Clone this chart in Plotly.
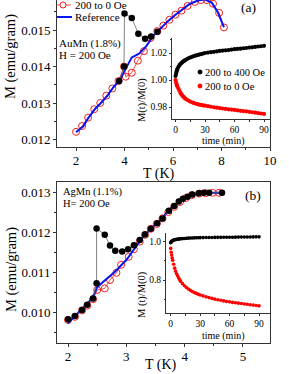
import plotly.graph_objects as go

W, H = 289, 374
def fx(px): return px / W
def fy(py): return 1 - py / H

FONT = "Liberation Serif, Times New Roman, serif"
RED = "#f02020"
BLUE = "#0a14f0"

# ---------------- panel (a) AuMn ----------------
a_ref_T = [2.0, 2.3, 2.5, 2.8, 3.0, 3.3, 3.55, 3.8, 4.0, 4.3, 4.6, 4.9, 5.2, 5.5, 5.8, 6.1, 6.4, 6.7, 7.0, 7.3, 7.6, 7.85, 8.1]
a_ref_M = [0.01220, 0.01236, 0.01258, 0.01285, 0.01298, 0.01320, 0.01344, 0.01362, 0.01388, 0.01425, 0.01435, 0.01456, 0.01485, 0.01505, 0.01525, 0.01542, 0.01558, 0.01572, 0.01580, 0.01584, 0.01575, 0.01548, 0.01508]
a_dn_T = [2.0, 2.25, 2.5, 2.75, 3.0, 3.25, 3.5, 3.75, 3.98, 4.05, 4.3, 4.55, 4.8, 5.08, 5.35, 5.6, 5.85, 6.1, 6.35, 6.6, 6.9, 7.15, 7.4, 7.65, 7.9, 8.1]
a_dn_M = [0.01221, 0.01237, 0.01260, 0.01283, 0.01300, 0.01320, 0.01340, 0.01360, 0.01400, 0.01372, 0.01383, 0.01416, 0.01442, 0.01478, 0.01497, 0.01512, 0.01528, 0.01542, 0.01553, 0.01566, 0.01577, 0.01582, 0.01582, 0.01572, 0.01547, 0.01507]
a_up_T = [3.78, 3.98, 4.0, 4.3, 4.57, 4.85, 5.1, 5.36]
a_up_M = [0.01360, 0.01400, 0.01545, 0.01533, 0.01490, 0.01476, 0.01482, 0.01495]

t_min = [0, 0.5, 1, 1.5, 2, 3, 4, 5, 6, 7, 8, 9, 10, 12, 14, 16, 18, 20, 22, 24, 26, 28, 30,
         33, 36, 39, 42, 45, 48, 51, 54, 57, 60, 63, 66, 69, 72, 75, 78, 81, 84, 87, 90]
a_in_up = [1.003, 1.0045, 1.006, 1.0073, 1.0083, 1.0098, 1.011, 1.0118, 1.0126, 1.0133, 1.0138, 1.0143, 1.0148,
           1.0157, 1.0164, 1.017, 1.0175, 1.018, 1.0184, 1.0188, 1.0192, 1.0196, 1.020,
           1.0203, 1.0206, 1.0209, 1.0212, 1.0215, 1.0218, 1.022, 1.0222, 1.0225, 1.0228, 1.023, 1.0232,
           1.0235, 1.0237, 1.024, 1.0242, 1.0245, 1.0248, 1.025, 1.0253]
a_in_dn = [1.000, 0.9985, 0.997, 0.996, 0.995, 0.9935, 0.992, 0.9905, 0.9894, 0.9884, 0.9876, 0.9869, 0.9862,
           0.9852, 0.9844, 0.9837, 0.9831, 0.9826, 0.9822, 0.9818, 0.9815, 0.9812, 0.9810,
           0.9806, 0.9802, 0.9798, 0.9795, 0.9792, 0.9789, 0.9786, 0.9783, 0.9781, 0.9778, 0.9775, 0.9772,
           0.977, 0.9767, 0.9764, 0.9761, 0.9758, 0.9755, 0.9752, 0.9749]

# ---------------- panel (b) AgMn ----------------
b_ref_T = [2.0, 2.1, 2.2, 2.3, 2.4, 2.45, 2.5, 2.6, 2.7, 2.8, 2.9, 3.0, 3.1, 3.2, 3.3, 3.4, 3.5, 3.6, 3.7, 3.8, 3.9, 4.0, 4.1, 4.2, 4.3, 4.4, 4.5, 4.6]
b_ref_M = [0.00972, 0.00988, 0.01002, 0.01016, 0.01032, 0.01045, 0.01062, 0.01075, 0.01087, 0.01100, 0.01115, 0.01130, 0.01150, 0.01170, 0.01190, 0.01205, 0.01218, 0.01232, 0.01250, 0.01265, 0.01276, 0.01285, 0.01291, 0.01295, 0.01297, 0.01298, 0.01298, 0.01298]
b_dn_T = [2.0, 2.12, 2.24, 2.33, 2.43, 2.5, 2.63, 2.72, 2.83, 2.91, 3.04, 3.13, 3.23, 3.32, 3.42, 3.52, 3.62, 3.72, 3.82, 3.92, 4.02, 4.12, 4.25, 4.36, 4.48, 4.59]
b_dn_M = [0.0098, 0.00988, 0.01004, 0.01016, 0.01032, 0.01055, 0.01059, 0.0108, 0.01098, 0.01118, 0.01138, 0.01157, 0.01176, 0.01193, 0.01208, 0.0122, 0.01234, 0.0125, 0.01263, 0.01275, 0.01285, 0.01292, 0.01296, 0.01297, 0.01298, 0.01298]
b_up_T = [2.0, 2.12, 2.24, 2.33, 2.43, 2.49, 2.49, 2.63, 2.72, 2.81, 2.93, 3.03, 3.13, 3.23, 3.32, 3.42, 3.53, 3.62, 3.73, 3.82, 3.9, 3.97, 4.05, 4.13, 4.24, 4.33, 4.42, 4.64]
b_up_M = [0.00982, 0.0099, 0.01005, 0.01018, 0.01034, 0.01072, 0.01209, 0.01193, 0.01166, 0.01153, 0.01151, 0.01157, 0.01167, 0.0118, 0.01194, 0.01208, 0.01222, 0.01234, 0.01253, 0.01265, 0.01276, 0.01283, 0.01288, 0.01294, 0.01297, 0.01298, 0.01298, 0.01298]

b_in_up = [0.995, 0.999, 1.002, 1.004, 1.006, 1.008, 1.010, 1.011, 1.012, 1.013, 1.014, 1.0145, 1.015,
           1.016, 1.017, 1.0178, 1.0185, 1.019, 1.0195, 1.020, 1.0203, 1.0206, 1.021,
           1.0213, 1.0216, 1.0219, 1.0222, 1.0224, 1.0226, 1.0228, 1.023, 1.0232, 1.0234, 1.0236, 1.0238,
           1.024, 1.0242, 1.0244, 1.0246, 1.0248, 1.025, 1.0252, 1.0254]
b_in_dn = [0.965, 0.945, 0.93, 0.915, 0.903, 0.882, 0.862, 0.846, 0.833, 0.822, 0.812, 0.803, 0.794,
           0.781, 0.770, 0.761, 0.753, 0.746, 0.740, 0.735, 0.730, 0.726, 0.722,
           0.717, 0.712, 0.708, 0.704, 0.700, 0.697, 0.694, 0.691, 0.688, 0.686, 0.683, 0.681,
           0.679, 0.677, 0.675, 0.673, 0.671, 0.669, 0.667, 0.665]

fig = go.Figure()

def main_traces(xa, ya, dnT, dnM, refT, refM, upT, upM):
    fig.add_trace(go.Scatter(x=dnT, y=dnM, mode="lines+markers", name="200 to 0 Oe",
                             line=dict(color=RED, width=0.8),
                             marker=dict(symbol="circle-open", size=7, color=RED, line=dict(width=1)),
                             xaxis=xa, yaxis=ya, showlegend=False))
    fig.add_trace(go.Scatter(x=refT, y=refM, mode="lines", name="Reference",
                             line=dict(color=BLUE, width=2), xaxis=xa, yaxis=ya, showlegend=False))
    fig.add_trace(go.Scatter(x=upT, y=upM, mode="lines+markers", name="200 to 400 Oe",
                             line=dict(color="#666666", width=0.8),
                             marker=dict(symbol="circle", size=6.5, color="black"),
                             xaxis=xa, yaxis=ya, showlegend=False))

def inset_traces(xa, ya, up, dn, size):
    fig.add_trace(go.Scatter(x=t_min, y=up, mode="markers", name="200 to 400 Oe",
                             marker=dict(size=size, color="black"), xaxis=xa, yaxis=ya, showlegend=False))
    fig.add_trace(go.Scatter(x=t_min, y=dn, mode="markers", name="200 to 0 Oe",
                             marker=dict(size=size, color="#ff0000"), xaxis=xa, yaxis=ya, showlegend=False))

main_traces("x", "y", a_dn_T, a_dn_M, a_ref_T, a_ref_M, a_up_T, a_up_M)
inset_traces("x2", "y2", a_in_up, a_in_dn, 4.2)
main_traces("x3", "y3", b_dn_T, b_dn_M, b_ref_T, b_ref_M, b_up_T, b_up_M)
inset_traces("x4", "y4", b_in_up, b_in_dn, 3.6)

ax_common = dict(showgrid=False, zeroline=False, showline=True, linecolor="#333333", linewidth=1,
                 ticks="outside", ticklen=3, tickcolor="#333333", tickfont=dict(family=FONT, size=13, color="black"))
in_common = dict(showgrid=False, zeroline=False, showline=True, linecolor="#333333", linewidth=1,
                 ticks="outside", ticklen=2, tickcolor="#333333", tickfont=dict(family=FONT, size=9.5, color="black"))

fig.update_layout(
    width=W, height=H,
    margin=dict(l=0, r=0, t=0, b=0, autoexpand=False),
    paper_bgcolor="white", plot_bgcolor="rgba(0,0,0,0)",
    font=dict(family=FONT, color="black"),
    showlegend=False,
    xaxis=dict(domain=[fx(57), fx(270)], range=[1.216, 10.0], anchor="y", mirror=False,
               tickvals=[2, 4, 6, 8, 10], ticklabelstandoff=-2,
               minor=dict(dtick=1, ticks="outside", ticklen=2, tickcolor="#333333"),
               **ax_common),
    yaxis=dict(domain=[fy(147), 1.0], range=[0.011795, 0.015822], anchor="x", mirror=True,
               tickvals=[0.012, 0.013, 0.014, 0.015], tickformat=".3f",
               minor=dict(dtick=0.0005, ticks="outside", ticklen=2, tickcolor="#333333"), **ax_common),
    xaxis2=dict(domain=[fx(172), fx(270)], range=[-3.6, 96.1], anchor="y2",
                tickvals=[0, 30, 60, 90], minor=dict(dtick=15, ticks="outside", ticklen=1.5, tickcolor="#333333"),
                **in_common),
    yaxis2=dict(domain=[fy(119), fy(38)], range=[0.97111, 1.03111], anchor="x2",
                tickvals=[0.98, 1.00, 1.02], tickformat=".2f",
                minor=dict(dtick=0.01, ticks="outside", ticklen=1.5, tickcolor="#333333"), **in_common),
    xaxis3=dict(domain=[fx(57), fx(270)], range=[1.8114, 5.463], anchor="y3", mirror=True,
                tickvals=[2, 3, 4, 5], ticklabelstandoff=-2,
                minor=dict(dtick=0.5, ticks="outside", ticklen=2, tickcolor="#333333"),
                **ax_common),
    yaxis3=dict(domain=[fy(343), fy(182)], range=[0.009225, 0.01325], anchor="x3", mirror=True,
                tickvals=[0.010, 0.011, 0.012, 0.013], tickformat=".3f",
                minor=dict(dtick=0.0005, ticks="outside", ticklen=2, tickcolor="#333333"), **ax_common),
    xaxis4=dict(domain=[fx(166), fx(270)], range=[-4.8, 101.2], anchor="y4",
                tickvals=[0, 30, 60, 90], minor=dict(dtick=15, ticks="outside", ticklen=1.5, tickcolor="#333333"),
                **in_common),
    yaxis4=dict(domain=[fy(313), fy(233)], range=[0.6277, 1.0454], anchor="x4",
                tickvals=[0.8, 1.0], tickformat=".1f",
                minor=dict(dtick=0.1, ticks="outside", ticklen=1.5, tickcolor="#333333"), **in_common),
)

def note(text, x, y, size, xanchor="left", angle=0):
    fig.add_annotation(text=text, x=fx(x), y=fy(y), xref="paper", yref="paper", showarrow=False,
                       xanchor=xanchor, yanchor="middle", textangle=angle, borderpad=0,
                       font=dict(family=FONT, size=size, color="black"))

note("(a)", 248, 8, 13.5, "center")
note("AuMn (1.8%)", 58, 43, 11)
note("H = 200 Oe", 58, 55, 11)
note("(b)", 253, 195, 13.5, "center")
note("AgMn (1.1%)", 62, 192, 10.5)
note("H= 200 Oe", 62, 204, 10.5)
note("M (emu/gram)", 11, 57, 14.5, "center", -90)
note("M (emu/gram)", 11, 270, 14.5, "center", -90)
note("T (K)", 159, 173.5, 14, "center")
note("T (K)", 161, 365, 14, "center")
note("M(t)/M(0)", 142, 100, 10.5, "center", -90)
note("M (t)/M(0)", 142, 295, 10.5, "center", -90)
note("time (min)", 223, 141, 10, "center")
note("time (min)", 223, 335.5, 10, "center")

# legend of panel (a)
note("200 to 0 Oe", 74, 5, 11)
note("Reference", 74, 17, 11)
note("200 to 400 Oe", 204, 72, 10.5)
note("200 to 0 Oe", 204, 86, 10.5)

def seg(x0, y0, x1, y1, color, width):
    fig.add_shape(type="line", xref="paper", yref="paper", x0=fx(x0), y0=fy(y0), x1=fx(x1), y1=fy(y1),
                  line=dict(color=color, width=width))

def dot(cx, cy, r, line, fill, width=1):
    fig.add_shape(type="circle", xref="paper", yref="paper", x0=fx(cx - r), x1=fx(cx + r),
                  y0=fy(cy + r), y1=fy(cy - r), line=dict(color=line, width=width), fillcolor=fill)

seg(57, 5, 60, 5, RED, 0.8)
seg(66, 5, 71, 5, RED, 0.8)
dot(63, 5, 3, RED, "rgba(0,0,0,0)")
seg(57, 17, 72, 17, BLUE, 2)
dot(200, 72, 2, "black", "black")
dot(200, 86, 2, "#ff0000", "#ff0000")

fig.write_html("out.html", config={"displayModeBar": False},
               post_script="document.body.style.margin='0';document.body.style.padding='0';"
                           "document.documentElement.style.overflow='hidden';")
